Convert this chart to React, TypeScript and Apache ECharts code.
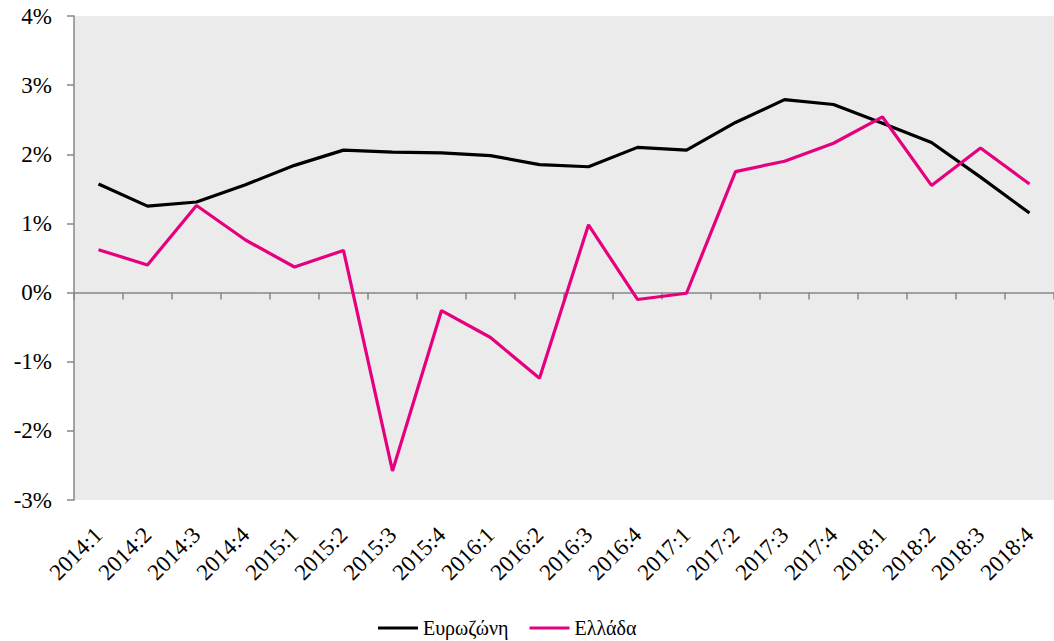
import React, { useEffect, useRef } from "react";
import * as echarts from "echarts";

const categories = [
  "2014:1", "2014:2", "2014:3", "2014:4",
  "2015:1", "2015:2", "2015:3", "2015:4",
  "2016:1", "2016:2", "2016:3", "2016:4",
  "2017:1", "2017:2", "2017:3", "2017:4",
  "2018:1", "2018:2", "2018:3", "2018:4",
];

const eurozone = [
  1.57, 1.25, 1.31, 1.56,
  1.84, 2.06, 2.03, 2.02,
  1.98, 1.85, 1.82, 2.10,
  2.06, 2.46, 2.79, 2.72,
  2.45, 2.17, 1.67, 1.15,
];

const greece = [
  0.62, 0.40, 1.26, 0.76,
  0.37, 0.61, -2.58, -0.26,
  -0.65, -1.24, 0.98, -0.10,
  -0.01, 1.75, 1.90, 2.16,
  2.54, 1.55, 2.09, 1.57,
];

const seriesNames = ["Ευρωζώνη", "Ελλάδα"];
const yTicks = { min: -3, max: 4, interval: 1 };

const FONT = "Liberation Serif";
const AXIS_GRAY = "#878787";

export default function App() {
  const ref = useRef<HTMLDivElement>(null);

  useEffect(() => {
    document.body.style.margin = "0";
    const chart = echarts.init(ref.current!, null, { renderer: "svg" });
    chart.setOption({
      animation: false,
      grid: {
        left: 74,
        top: 16,
        width: 988,
        height: 484,
        show: true,
        backgroundColor: "#EBEBEB",
        borderWidth: 0,
      },
      legend: {
        top: 613,
        left: 373,
        icon: "rect",
        itemWidth: 40,
        itemHeight: 3,
        itemGap: 21,
        textStyle: { fontFamily: FONT, fontSize: 20, color: "#000" },
        data: seriesNames,
      },
      xAxis: [
        {
          type: "category",
          data: categories,
          position: "bottom",
          boundaryGap: true,
          axisLine: { onZero: true, lineStyle: { color: AXIS_GRAY, width: 1.5 } },
          axisTick: { show: true, length: 7, lineStyle: { color: AXIS_GRAY, width: 1.5 } },
          axisLabel: { show: false },
          splitLine: { show: false },
        },
        {
          type: "category",
          data: categories,
          position: "bottom",
          boundaryGap: true,
          axisLine: { show: false, onZero: false },
          axisTick: { show: false },
          axisLabel: {
            show: true,
            rotate: 45,
            interval: 0,
            margin: 31,
            fontFamily: FONT,
            fontSize: 23,
            color: "#000",
          },
          splitLine: { show: false },
        },
      ],
      yAxis: {
        type: "value",
        min: yTicks.min,
        max: yTicks.max,
        interval: yTicks.interval,
        axisLine: { show: true, lineStyle: { color: AXIS_GRAY, width: 1.5 } },
        axisTick: { show: true, length: 7, lineStyle: { color: AXIS_GRAY, width: 1.5 } },
        splitLine: { show: false },
        axisLabel: {
          formatter: "{value}%",
          margin: 22,
          fontFamily: FONT,
          fontSize: 23,
          color: "#000",
        },
      },
      series: [
        {
          name: seriesNames[0],
          type: "line",
          xAxisIndex: 0,
          data: eurozone,
          symbol: "none",
          lineStyle: { color: "#000000", width: 3.2 },
          itemStyle: { color: "#000000" },
        },
        {
          name: seriesNames[1],
          type: "line",
          xAxisIndex: 0,
          data: greece,
          symbol: "none",
          lineStyle: { color: "#E6007E", width: 3.2 },
          itemStyle: { color: "#E6007E" },
        },
      ],
    });
    return () => chart.dispose();
  }, []);

  return <div ref={ref} style={{ width: 1054, height: 641 }} />;
}
